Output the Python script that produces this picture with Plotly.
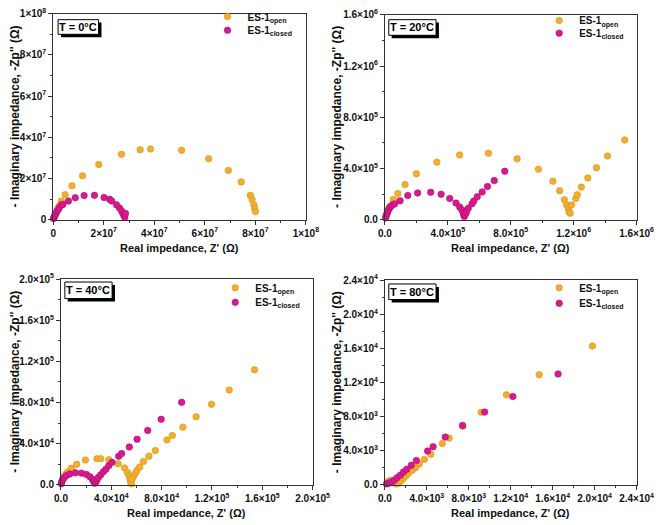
import plotly.graph_objects as go

# ---------------- data ----------------
# T = 0 °C
open0_x = [0.04e7, 0.09e7, 0.15e7, 0.22e7, 0.32e7, 0.47e7, 0.74e7, 1.16e7, 1.80e7, 2.70e7, 3.44e7, 3.85e7,
           5.08e7, 6.15e7, 6.93e7, 7.44e7, 7.80e7, 7.87e7, 7.94e7, 7.97e7, 8.00e7]
open0_y = [0.10e7, 0.25e7, 0.45e7, 0.65e7, 0.90e7, 1.21e7, 1.64e7, 2.13e7, 2.68e7, 3.17e7, 3.39e7, 3.43e7,
           3.37e7, 2.96e7, 2.39e7, 1.83e7, 1.18e7, 0.98e7, 0.72e7, 0.55e7, 0.39e7]
closed0_x = [0.01e7, 0.03e7, 0.06e7, 0.10e7, 0.14e7, 0.19e7, 0.24e7, 0.32e7, 0.38e7, 0.60e7, 0.87e7, 1.22e7,
             1.63e7, 2.01e7, 2.23e7, 2.31e7, 2.50e7, 2.62e7, 2.70e7, 2.76e7, 2.80e7, 2.83e7, 2.86e7]
closed0_y = [0.05e7, 0.12e7, 0.19e7, 0.29e7, 0.39e7, 0.48e7, 0.58e7, 0.71e7, 0.74e7, 0.90e7, 1.06e7, 1.17e7,
             1.18e7, 1.07e7, 0.99e7, 0.91e7, 0.72e7, 0.57e7, 0.43e7, 0.28e7, 0.19e7, 0.12e7, 0.30e7]

# T = 20 °C
open20_x = [0.06e5, 0.12e5, 0.20e5, 0.30e5, 0.53e5, 0.82e5, 1.28e5, 2.00e5, 3.30e5, 4.75e5, 6.58e5, 8.40e5,
            9.76e5, 10.68e5, 11.11e5, 11.41e5, 11.55e5, 11.66e5, 11.72e5, 11.78e5, 11.86e5, 12.13e5, 12.23e5,
            12.49e5, 12.90e5, 13.45e5, 14.15e5, 15.25e5]
open20_y = [0.25e5, 0.50e5, 0.76e5, 1.02e5, 1.57e5, 2.03e5, 2.74e5, 3.58e5, 4.49e5, 5.05e5, 5.18e5, 4.75e5,
            3.93e5, 3.00e5, 2.26e5, 1.55e5, 1.14e5, 0.84e5, 0.58e5, 0.50e5, 1.14e5, 1.65e5, 1.95e5,
            2.54e5, 3.25e5, 4.06e5, 4.97e5, 6.22e5]
closed20_x = [0.04e5, 0.08e5, 0.14e5, 0.20e5, 0.27e5, 0.37e5, 0.47e5, 0.61e5, 0.96e5, 1.45e5, 2.08e5, 2.91e5,
              3.57e5, 4.12e5, 4.52e5, 4.75e5, 4.89e5, 4.97e5, 5.01e5, 5.05e5, 5.10e5, 5.18e5, 5.30e5, 5.54e5,
              5.65e5, 5.87e5, 6.18e5, 6.52e5, 6.95e5, 7.62e5]
closed20_y = [0.13e5, 0.30e5, 0.48e5, 0.68e5, 0.86e5, 1.02e5, 1.14e5, 1.22e5, 1.47e5, 1.88e5, 2.08e5, 2.13e5,
              1.98e5, 1.65e5, 1.29e5, 0.99e5, 0.76e5, 0.56e5, 0.38e5, 0.25e5, 0.38e5, 0.58e5, 0.89e5, 1.24e5,
              1.45e5, 1.78e5, 2.16e5, 2.59e5, 3.05e5, 3.78e5]

# T = 40 °C
open40_x = [0.05e4, 0.18e4, 0.30e4, 0.43e4, 0.56e4, 0.82e4, 1.25e4, 1.94e4, 2.86e4, 3.16e4, 3.80e4, 4.54e4,
            5.05e4, 5.28e4, 5.41e4, 5.48e4, 5.54e4, 5.60e4, 5.66e4, 5.79e4, 5.92e4, 6.05e4, 6.25e4, 6.56e4,
            6.99e4, 7.50e4, 8.42e4, 8.85e4, 9.69e4, 10.74e4, 11.96e4, 13.37e4, 15.38e4]
open40_y = [0.25e4, 0.57e4, 0.89e4, 1.11e4, 1.27e4, 1.62e4, 2.00e4, 2.41e4, 2.54e4, 2.54e4, 2.44e4, 2.06e4,
            1.65e4, 1.20e4, 0.89e4, 0.57e4, 0.25e4, 0.10e4, 0.57e4, 0.89e4, 1.14e4, 1.43e4, 1.74e4, 2.28e4,
            2.79e4, 3.33e4, 4.37e4, 4.79e4, 5.61e4, 6.62e4, 7.83e4, 9.22e4, 11.19e4]
closed40_x = [0.02e4, 0.06e4, 0.13e4, 0.23e4, 0.41e4, 0.69e4, 1.15e4, 1.63e4, 2.02e4, 2.30e4, 2.50e4, 2.60e4,
              2.68e4, 2.76e4, 2.86e4, 2.98e4, 3.16e4, 3.37e4, 3.57e4, 3.80e4, 4.06e4, 4.59e4, 4.82e4, 5.43e4,
              6.05e4, 6.89e4, 7.96e4, 9.59e4]
closed40_y = [0.10e4, 0.29e4, 0.51e4, 0.70e4, 0.89e4, 1.05e4, 1.17e4, 1.14e4, 1.01e4, 0.79e4, 0.54e4, 0.32e4,
              0.16e4, 0.25e4, 0.48e4, 0.73e4, 0.98e4, 1.27e4, 1.52e4, 1.87e4, 2.19e4, 2.79e4, 3.04e4, 3.68e4,
              4.44e4, 5.29e4, 6.37e4, 8.02e4]

# T = 80 °C
open80_x = [0.24e3, 0.46e3, 0.67e3, 0.92e3, 1.07e3, 1.28e3, 1.53e3, 1.77e3, 2.02e3, 2.29e3, 2.60e3, 2.91e3,
            3.27e3, 3.76e3, 4.37e3, 5.47e3, 6.12e3, 7.43e3, 9.17e3, 11.59e3, 14.71e3, 19.79e3]
open80_y = [0.38e3, 0.50e3, 0.50e3, 0.27e3, 0.11e3, 0.19e3, 0.46e3, 0.76e3, 1.07e3, 1.41e3, 1.71e3, 2.02e3,
            2.44e3, 2.97e3, 3.58e3, 4.84e3, 5.49e3, 6.86e3, 8.50e3, 10.55e3, 12.91e3, 16.27e3]
closed80_x = [0.15e3, 0.31e3, 0.52e3, 0.70e3, 0.92e3, 1.16e3, 1.47e3, 1.77e3, 2.08e3, 2.51e3, 3.00e3, 4.07e3,
              4.59e3, 5.75e3, 7.40e3, 9.51e3, 12.20e3, 16.51e3]
closed80_y = [0.11e3, 0.19e3, 0.27e3, 0.38e3, 0.57e3, 0.84e3, 1.14e3, 1.52e3, 1.83e3, 2.29e3, 2.86e3, 3.96e3,
              4.46e3, 5.60e3, 6.97e3, 8.53e3, 10.36e3, 12.99e3]

temps = ["T = 0°C", "T = 20°C", "T = 40°C", "T = 80°C"]

# tick values / labels
ticks0 = [0, 2e7, 4e7, 6e7, 8e7, 1e8]
labels0 = ["0", "2×10<sup>7</sup>", "4×10<sup>7</sup>", "6×10<sup>7</sup>", "8×10<sup>7</sup>", "1×10<sup>8</sup>"]
ticks20 = [0, 4e5, 8e5, 1.2e6, 1.6e6]
labels20 = ["0.0", "4.0×10<sup>5</sup>", "8.0×10<sup>5</sup>", "1.2×10<sup>6</sup>", "1.6×10<sup>6</sup>"]
ticks40 = [0, 4e4, 8e4, 1.2e5, 1.6e5, 2.0e5]
labels40 = ["0.0", "4.0×10<sup>4</sup>", "8.0×10<sup>4</sup>", "1.2×10<sup>5</sup>", "1.6×10<sup>5</sup>", "2.0×10<sup>5</sup>"]
ticks80 = [0, 4e3, 8e3, 1.2e4, 1.6e4, 2.0e4, 2.4e4]
labels80 = ["0.0", "4.0×10<sup>3</sup>", "8.0×10<sup>3</sup>", "1.2×10<sup>4</sup>", "1.6×10<sup>4</sup>",
            "2.0×10<sup>4</sup>", "2.4×10<sup>4</sup>"]

# ---------------- figure ----------------
W, H = 669, 525
ORANGE = "#F2AE2E"
MAGENTA = "#D9198E"
FONT = "Liberation Sans, Arial, sans-serif"

def fx(p):
    return p / W

def fy(p):
    return 1 - p / H

panels = [
    dict(box=(48, 310, 7, 218), ticks=ticks0, labels=labels0, data=(open0_x, open0_y, closed0_x, closed0_y),
         tbox=(53, 95, 13, 28), legtops=(-5, 9)),
    dict(box=(392, 653, 8, 218), ticks=ticks20, labels=labels20, data=(open20_x, open20_y, closed20_x, closed20_y),
         tbox=(396, 445, 13, 29), legtops=(-1, 12)),
    dict(box=(56, 317, 279, 490), ticks=ticks40, labels=labels40, data=(open40_x, open40_y, closed40_x, closed40_y),
         tbox=(60, 109, 282, 299), legtops=(273, 288)),
    dict(box=(392, 653, 280, 490), ticks=ticks80, labels=labels80, data=(open80_x, open80_y, closed80_x, closed80_y),
         tbox=(396, 445, 284, 300), legtops=(273, 289)),
]

fig = go.Figure()
shapes = []
annotations = []
layout = {}

for i, p in enumerate(panels):
    k = "" if i == 0 else str(i + 1)
    l, r, t, b = p["box"]
    ox, oy, cx, cy = p["data"]
    leg_o = "legend" if i == 0 else f"legend{2 * i + 1}"
    leg_c = f"legend{2 * i + 2}"
    fig.add_trace(go.Scatter(x=ox, y=oy, mode="markers", name="<b>ES-1<sub>open</sub></b>",
                             marker=dict(color=ORANGE, size=6.5, line=dict(color="#D8931A", width=0.6)),
                             xaxis="x" + k, yaxis="y" + k, legend=leg_o, cliponaxis=False, showlegend=True))
    fig.add_trace(go.Scatter(x=cx, y=cy, mode="markers", name="<b>ES-1<sub>closed</sub></b>",
                             marker=dict(color=MAGENTA, size=6.5, line=dict(color="#B00E72", width=0.6)),
                             xaxis="x" + k, yaxis="y" + k, legend=leg_c, cliponaxis=False, showlegend=True))
    tv = p["ticks"]
    step = tv[1] - tv[0]
    common = dict(showgrid=False, zeroline=False, showline=True, linecolor="#333", linewidth=1,
                  mirror=True, ticks="outside", ticklen=4, tickcolor="#333", tickwidth=1,
                  tickvals=tv, ticktext=p["labels"], range=[tv[0], tv[-1]],
                  tickfont=dict(family=FONT, size=10, color="#111", weight="bold"),
                  minor=dict(ticks="outside", ticklen=2, tickcolor="#333", dtick=step / 2, tick0=0))
    layout["xaxis" + k] = dict(common, domain=[fx(l), fx(r)], anchor="y" + k)
    layout["yaxis" + k] = dict(common, domain=[fy(b), fy(t)], anchor="x" + k)

    # legends (one per row)
    for leg, top in zip((leg_o, leg_c), p["legtops"]):
        layout[leg] = dict(x=fx(l + 160), y=fy(top), xanchor="left", yanchor="top",
                           bgcolor="rgba(0,0,0,0)", font=dict(family=FONT, size=10, color="#111"),
                           itemwidth=30, visible=True)

    # temperature label box with shadow
    bl, br, bt, bb = p["tbox"]
    shapes.append(dict(type="rect", xref="paper", yref="paper", x0=fx(bl + 3), x1=fx(br + 3),
                       y0=fy(bb + 3), y1=fy(bt + 3), fillcolor="black", line=dict(width=0)))
    shapes.append(dict(type="rect", xref="paper", yref="paper", x0=fx(bl), x1=fx(br),
                       y0=fy(bb), y1=fy(bt), fillcolor="white", line=dict(color="black", width=1)))
    annotations.append(dict(xref="paper", yref="paper", x=fx((bl + br) / 2), y=fy((bt + bb) / 2),
                            text="<b>" + temps[i] + "</b>", showarrow=False,
                            font=dict(family=FONT, size=11, color="black"), xanchor="center", yanchor="middle"))
    # axis titles
    annotations.append(dict(xref="paper", yref="paper", x=fx((l + r) / 2), y=fy(b + 29),
                            text="<b>Real impedance, Z' (Ω)</b>", showarrow=False,
                            font=dict(family=FONT, size=11, color="#111"), xanchor="center", yanchor="middle"))
    annotations.append(dict(xref="paper", yref="paper", x=fx((0 if i % 2 == 0 else 335) + 8), y=fy((t + b) / 2),
                            text="<b>- Imaginary impedance, -Zp'' (Ω)</b>", showarrow=False, textangle=-90,
                            font=dict(family=FONT, size=12, color="#111"), xanchor="center", yanchor="middle"))

fig.update_layout(width=W, height=H, margin=dict(l=0, r=0, t=0, b=0), showlegend=True,
                  paper_bgcolor="white", plot_bgcolor="white",
                  shapes=shapes, annotations=annotations, **layout)

fig.write_html("out.html")
